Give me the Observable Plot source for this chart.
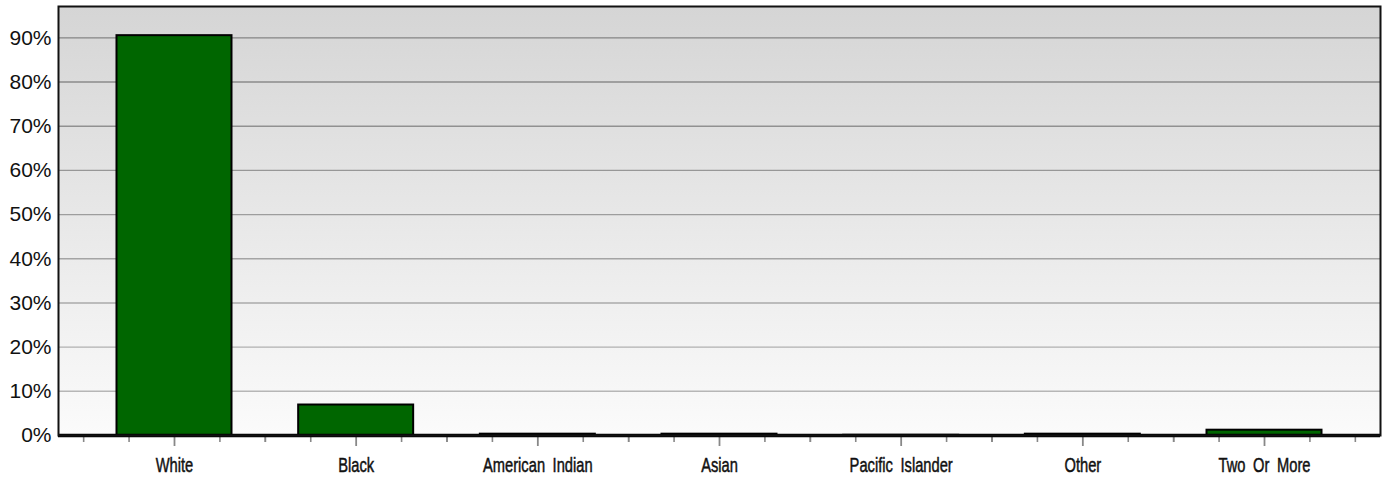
<!DOCTYPE html>
<html>
<head>
<meta charset="utf-8">
<script src="https://cdn.jsdelivr.net/npm/d3@7"></script>
<script src="https://cdn.jsdelivr.net/npm/@observablehq/plot@0.6"></script>
<style>
  html, body { margin: 0; padding: 0; background: #ffffff; }
  #chart { width: 1384px; height: 479px; }
  .xlab text { word-spacing: 5px; stroke: #111; stroke-width: 0.5px; }
</style>
</head>
<body>
<div id="chart"></div>
<script>
const categories = ["White", "Black", "American Indian", "Asian", "Pacific Islander", "Other", "Two Or More"];
const values = [90.5, 6.9, 0.3, 0.3, 0.05, 0.3, 1.2];
const yTicks = [0, 10, 20, 30, 40, 50, 60, 70, 80, 90];

const data = categories.map((c, i) => ({category: c, value: values[i]}));

const W = 1384, H = 479;
const mL = 58, mR = 4, mT = 6, mB = 44;
const pInner = 0.367, pOuter = 0.322;
const step = (W - mL - mR) / (categories.length - pInner + 2 * pOuter);
const q = step / 4;

const gridColor = d3.interpolateRgb("#bcbcbc", "#858585");

const plot = Plot.plot({
  width: W,
  height: H,
  marginLeft: mL,
  marginRight: mR,
  marginTop: mT,
  marginBottom: mB,
  style: {background: "transparent"},
  x: {type: "band", domain: categories, paddingInner: pInner, paddingOuter: pOuter, align: 0.5, round: false, label: null},
  y: {domain: [0, 97.1], label: null},
  marks: [
    Plot.frame({fill: "url(#bgGrad)", stroke: "none"}),
    Plot.ruleY(yTicks.filter(d => d > 0), {y: d => d, stroke: d => gridColor(d / 90), strokeWidth: 1.4}),
    Plot.barY(data, {x: "category", y: "value", fill: "#006600", stroke: "#000", strokeWidth: 2}),
    // minor ticks
    Plot.axisX({tickSize: 7, stroke: "#888", strokeWidth: 1.6, text: null, label: null, dx: -2 * q}),
    Plot.axisX({tickSize: 7, stroke: "#888", strokeWidth: 1.6, text: null, label: null, dx: -q}),
    Plot.axisX({tickSize: 7, stroke: "#888", strokeWidth: 1.6, text: null, label: null, dx: q}),
    Plot.axisX({tickSize: 7, stroke: "#888", strokeWidth: 1.6, text: null, label: null, dx: 2 * q}),
    // major ticks
    Plot.axisX({tickSize: 11, stroke: "#888", strokeWidth: 1.8, text: null, label: null}),
    // labels
    Plot.axisX({tickSize: 0, tickPadding: 22, fontSize: 21, fill: "#111", label: null, className: "xlab",
      fontFamily: "'Liberation Sans', Arial, sans-serif"}),
    Plot.axisY({ticks: yTicks, tickSize: 0, tickPadding: 7, fontSize: 21, fill: "#111", label: null,
      tickFormat: d => d + "%", fontFamily: "'Liberation Sans', Arial, sans-serif"}),
    Plot.ruleY([0], {stroke: "#000", strokeWidth: 3.5}),
    Plot.frame({stroke: "#111", strokeWidth: 2})
  ]
});

const ns = "http://www.w3.org/2000/svg";
const defs = document.createElementNS(ns, "defs");
defs.innerHTML = `<linearGradient id="bgGrad" x1="0" y1="0" x2="0" y2="1">
  <stop offset="0" stop-color="#d5d5d5"/>
  <stop offset="1" stop-color="#fbfbfb"/>
</linearGradient>`;
plot.insertBefore(defs, plot.firstChild);
// condense the category labels horizontally around their anchor
plot.querySelectorAll(".xlab text").forEach(t => {
  const tr = t.getAttribute("transform") || "";
  t.setAttribute("transform", tr + " scale(0.7,1)");
});
document.getElementById("chart").appendChild(plot);
</script>
</body>
</html>
